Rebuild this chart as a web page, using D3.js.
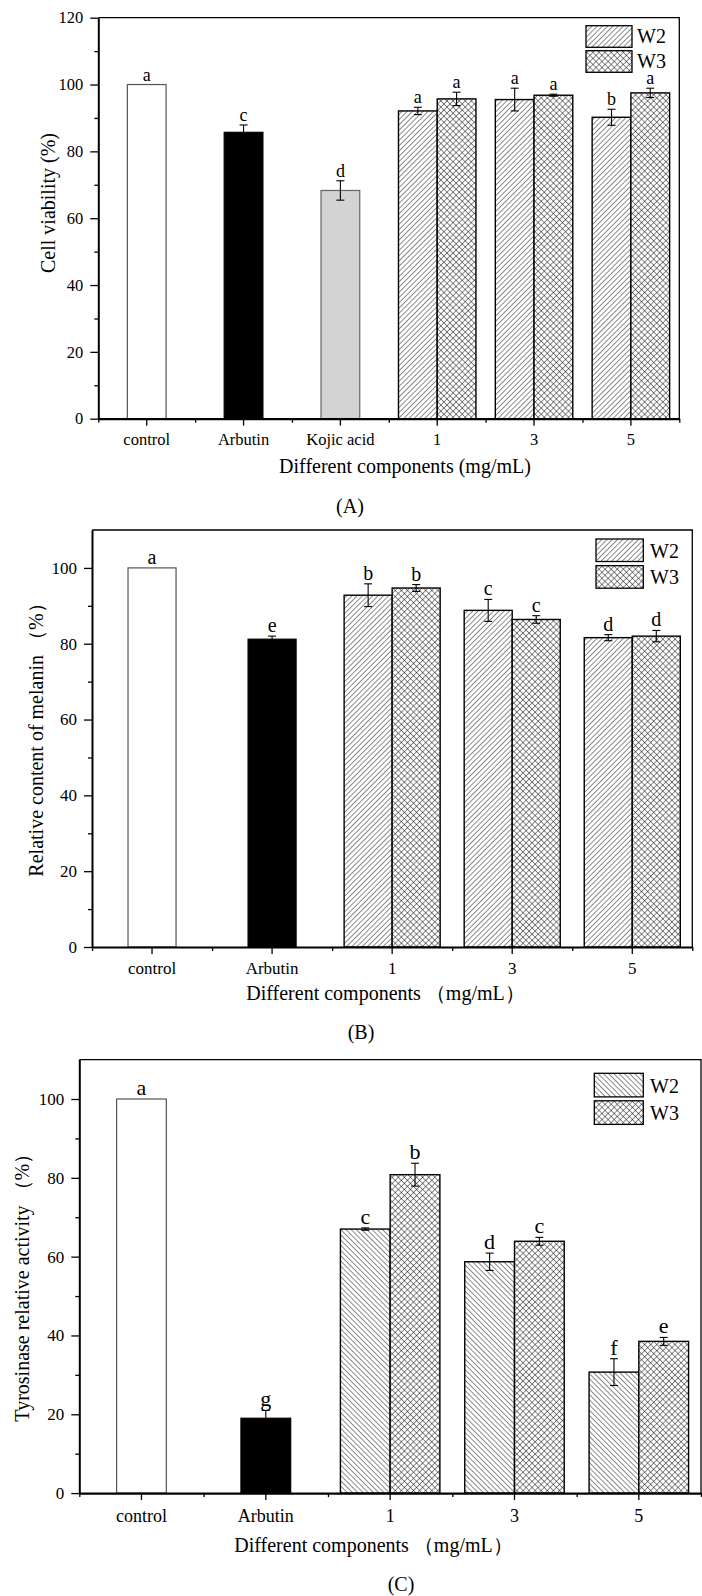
<!DOCTYPE html>
<html>
<head>
<meta charset="utf-8">
<script src="https://cdn.jsdelivr.net/npm/d3@7"></script>
<style>
body { margin: 0; background: #fff; }
svg text { font-family: "Times New Roman", "Liberation Serif", serif; fill: #000; }
</style>
</head>
<body>
<svg id="fig" width="702" height="1596"></svg>
<script>
// (A) cell viability
const catsA = ["control", "Arbutin", "Kojic acid", "1", "3", "5"];
const singleA = [100, 85.7, 68.3];
const singleErrA = [0, 2.2, 2.9];
const singleLetA = ["a", "c", "d"];
const w2A = [92.1, 95.5, 90.2];
const w2ErrA = [1.1, 3.4, 2.4];
const w2LetA = ["a", "a", "b"];
const w3A = [95.7, 96.8, 97.5];
const w3ErrA = [2.0, 0.3, 1.4];
const w3LetA = ["a", "a", "a"];
const yTicksA = [0, 20, 40, 60, 80, 100, 120];

// (B) melanin content
const catsB = ["control", "Arbutin", "1", "3", "5"];
const singleB = [100, 81.2];
const singleErrB = [0, 0.8];
const singleLetB = ["a", "e"];
const w2B = [92.8, 88.8, 81.6];
const w2ErrB = [3.0, 2.9, 0.8];
const w2LetB = ["b", "c", "d"];
const w3B = [94.7, 86.4, 82.0];
const w3ErrB = [0.9, 1.0, 1.5];
const w3LetB = ["b", "c", "d"];
const yTicksB = [0, 20, 40, 60, 80, 100];

// (C) tyrosinase activity
const catsC = ["control", "Arbutin", "1", "3", "5"];
const singleC = [100, 19.0];
const singleErrC = [0, 2.0];
const singleLetC = ["a", "g"];
const w2C = [67.0, 58.7, 30.7];
const w2ErrC = [0.3, 2.2, 3.4];
const w2LetC = ["c", "d", "f"];
const w3C = [80.8, 63.9, 38.5];
const w3ErrC = [2.9, 1.0, 1.0];
const w3LetC = ["b", "c", "e"];
const yTicksC = [0, 20, 40, 60, 80, 100];

const seriesNames = ["W2", "W3"];

let svg = d3.select("#fig");
let defs = svg.append("defs");

// hatch patterns
function makeHatch(id, angle, size, cross) {
    let p = defs.append("pattern")
        .attr("id", id)
        .attr("patternUnits", "userSpaceOnUse")
        .attr("width", size).attr("height", size)
        .attr("patternTransform", "rotate(" + angle + ")");
    p.append("rect").attr("width", size).attr("height", size).attr("fill", "#fff");
    p.append("line").attr("x1", 0).attr("y1", 0).attr("x2", 0).attr("y2", size)
        .attr("stroke", "#000").attr("stroke-width", 0.9);
    if (cross) {
        p.append("line").attr("x1", 0).attr("y1", 0).attr("x2", size).attr("y2", 0)
            .attr("stroke", "#000").attr("stroke-width", 0.9);
    }
}
makeHatch("fwd", 45, 3.7, false);
makeHatch("back", -45, 3.7, false);
makeHatch("cross", 45, 4.3, true);

const singleFill = ["#fff", "#000", "#d3d3d3"];
const singleStroke = ["#555", "#000", "#666"];

function drawPanel(o) {
    let g = svg.append("g");
    let n = o.cats.length;
    let x = d3.scaleBand().domain(o.cats).range([o.left, o.right]);
    let xb = d3.scaleLinear().domain([0, n]).range([o.left, o.right]);
    let y = d3.scaleLinear().domain([0, o.ymax]).range([o.bottom, o.top]);
    let bw = x.bandwidth() * 0.4;

    let rows = [];
    o.single.forEach(function(v, i) {
        let c = x(o.cats[i]) + x.bandwidth() / 2;
        rows.push({x: c - bw / 2, v: v, e: o.singleErr[i], l: o.singleLet[i],
                   fill: singleFill[i], stroke: singleStroke[i], sw: 1.2});
    });
    let k = o.single.length;
    o.w2.forEach(function(v, j) {
        let c = x(o.cats[k + j]) + x.bandwidth() / 2;
        rows.push({x: c - bw, v: v, e: o.w2Err[j], l: o.w2Let[j],
                   fill: "url(#" + o.hatch + ")", stroke: "#000", sw: 1.4});
        rows.push({x: c, v: o.w3[j], e: o.w3Err[j], l: o.w3Let[j],
                   fill: "url(#cross)", stroke: "#000", sw: 1.4});
    });

    g.selectAll("rect.bar")
        .data(rows).enter()
        .append("rect")
            .attr("class", "bar")
            .attr("x", function(d) { return d.x; })
            .attr("y", function(d) { return y(d.v); })
            .attr("width", bw)
            .attr("height", function(d) { return y(0) - y(d.v); })
            .attr("fill", function(d) { return d.fill; })
            .attr("stroke", function(d) { return d.stroke; })
            .attr("stroke-width", function(d) { return d.sw; });

    // error bars
    let eb = g.selectAll("g.err")
        .data(rows.filter(function(d) { return d.e > 0; })).enter()
        .append("g").attr("class", "err")
        .attr("stroke", "#000").attr("stroke-width", 1.1);
    eb.append("line")
        .attr("x1", function(d) { return d.x + bw / 2; })
        .attr("x2", function(d) { return d.x + bw / 2; })
        .attr("y1", function(d) { return y(d.v - d.e); })
        .attr("y2", function(d) { return y(d.v + d.e); });
    [1, -1].forEach(function(s) {
        eb.append("line")
            .attr("x1", function(d) { return d.x + bw / 2 - 4; })
            .attr("x2", function(d) { return d.x + bw / 2 + 4; })
            .attr("y1", function(d) { return y(d.v + s * d.e); })
            .attr("y2", function(d) { return y(d.v + s * d.e); });
    });

    // significance letters
    g.selectAll("text.let")
        .data(rows).enter()
        .append("text")
            .attr("class", "let")
            .attr("x", function(d) { return d.x + bw / 2; })
            .attr("y", function(d) { return y(d.v + d.e) - 4; })
            .attr("text-anchor", "middle")
            .style("font-size", o.letFont + "px")
            .text(function(d) { return d.l; });

    // y axis
    let minorY = d3.range(10, o.ymax, 20);
    let ya = g.append("g")
        .attr("transform", "translate(" + o.left + ",0)")
        .call(d3.axisLeft(y).tickValues(o.yticks).tickSize(8).tickSizeOuter(0).tickPadding(7));
    ya.select(".domain").attr("stroke-width", 2);
    ya.selectAll(".tick line").attr("stroke-width", 1.3);
    ya.selectAll("text").style("font-size", o.tickFont + "px");
    let ym = g.append("g")
        .attr("transform", "translate(" + o.left + ",0)")
        .call(d3.axisLeft(y).tickValues(minorY).tickSize(4).tickFormat(""));
    ym.select(".domain").remove();
    ym.selectAll(".tick line").attr("stroke-width", 1.3);

    // x axis
    let xa = g.append("g")
        .attr("transform", "translate(0," + o.bottom + ")")
        .call(d3.axisBottom(x).tickSize(7).tickSizeOuter(0));
    xa.select(".domain").attr("stroke-width", 2.2);
    xa.selectAll(".tick line").attr("stroke-width", 1.3);
    xa.selectAll("text").attr("y", o.catY).attr("dy", 0)
        .style("font-size", o.catFont + "px");
    let xm = g.append("g")
        .attr("transform", "translate(0," + o.bottom + ")")
        .call(d3.axisBottom(xb).tickValues(d3.range(n + 1)).tickSize(4).tickFormat(""));
    xm.select(".domain").remove();
    xm.selectAll(".tick line").attr("stroke-width", 1.3);

    // frame
    g.append("path")
        .attr("d", "M" + o.left + "," + o.top + "H" + o.right + "V" + o.bottom)
        .attr("fill", "none").attr("stroke", "#000").attr("stroke-width", 1.3);

    // legend
    [o.hatch, "cross"].forEach(function(p, i) {
        g.append("rect")
            .attr("x", o.legX).attr("y", o.legY[i])
            .attr("width", o.legW).attr("height", o.legH)
            .attr("fill", "url(#" + p + ")")
            .attr("stroke", "#000").attr("stroke-width", 1.3);
        g.append("text")
            .attr("x", o.legTextX).attr("y", o.legY[i] + o.legH - 4)
            .style("font-size", "20px")
            .text(seriesNames[i]);
    });

    g.append("text")
        .attr("transform", "translate(" + o.ylabX + "," + o.ylabY + ") rotate(-90)")
        .attr("text-anchor", "middle")
        .style("font-size", "20px")
        .text(o.ylabel);

    g.append("text")
        .attr("x", o.titleX).attr("y", o.titleY)
        .attr("text-anchor", "middle")
        .style("font-size", "20px")
        .text(o.title);

    g.append("text")
        .attr("x", o.capX).attr("y", o.capY)
        .attr("text-anchor", "middle")
        .style("font-size", "20px")
        .text(o.caption);
}

drawPanel({
    cats: catsA, single: singleA, singleErr: singleErrA, singleLet: singleLetA,
    w2: w2A, w2Err: w2ErrA, w2Let: w2LetA, w3: w3A, w3Err: w3ErrA, w3Let: w3LetA,
    yticks: yTicksA, ymax: 120,
    left: 98.3, right: 679.3, top: 17.7, bottom: 418.7,
    hatch: "fwd", tickFont: 16.5, catFont: 16.5, catY: 26.3, letFont: 18,
    legX: 586, legW: 46, legH: 21.6, legY: [25.7, 50.7], legTextX: 637,
    ylabel: "Cell viability (%)", ylabX: 55, ylabY: 203,
    title: "Different components (mg/mL)", titleX: 405, titleY: 473,
    caption: "(A)", capX: 350, capY: 513
});

drawPanel({
    cats: catsB, single: singleB, singleErr: singleErrB, singleLet: singleLetB,
    w2: w2B, w2Err: w2ErrB, w2Let: w2LetB, w3: w3B, w3Err: w3ErrB, w3Let: w3LetB,
    yticks: yTicksB, ymax: 110,
    left: 92, right: 692.3, top: 530, bottom: 947,
    hatch: "fwd", tickFont: 17, catFont: 17, catY: 27, letFont: 20,
    legX: 596, legW: 47.3, legH: 22.5, legY: [539, 565.7], legTextX: 650,
    ylabel: "Relative content of melanin （%）", ylabX: 43, ylabY: 735,
    title: "Different components （mg/mL）", titleX: 385.5, titleY: 1000,
    caption: "(B)", capX: 361, capY: 1039
});

drawPanel({
    cats: catsC, single: singleC, singleErr: singleErrC, singleLet: singleLetC,
    w2: w2C, w2Err: w2ErrC, w2Let: w2LetC, w3: w3C, w3Err: w3ErrC, w3Let: w3LetC,
    yticks: yTicksC, ymax: 110,
    left: 79.3, right: 701, top: 1059.6, bottom: 1493.1,
    hatch: "back", tickFont: 17, catFont: 18, catY: 28.6, letFont: 22,
    legX: 594.3, legW: 49, legH: 23.6, legY: [1073.3, 1100.8], legTextX: 650,
    ylabel: "Tyrosinase relative activity （%）", ylabX: 28.6, ylabY: 1282.7,
    title: "Different components （mg/mL）", titleX: 373.5, titleY: 1551.7,
    caption: "(C)", capX: 401, capY: 1591
});
</script>
</body>
</html>
